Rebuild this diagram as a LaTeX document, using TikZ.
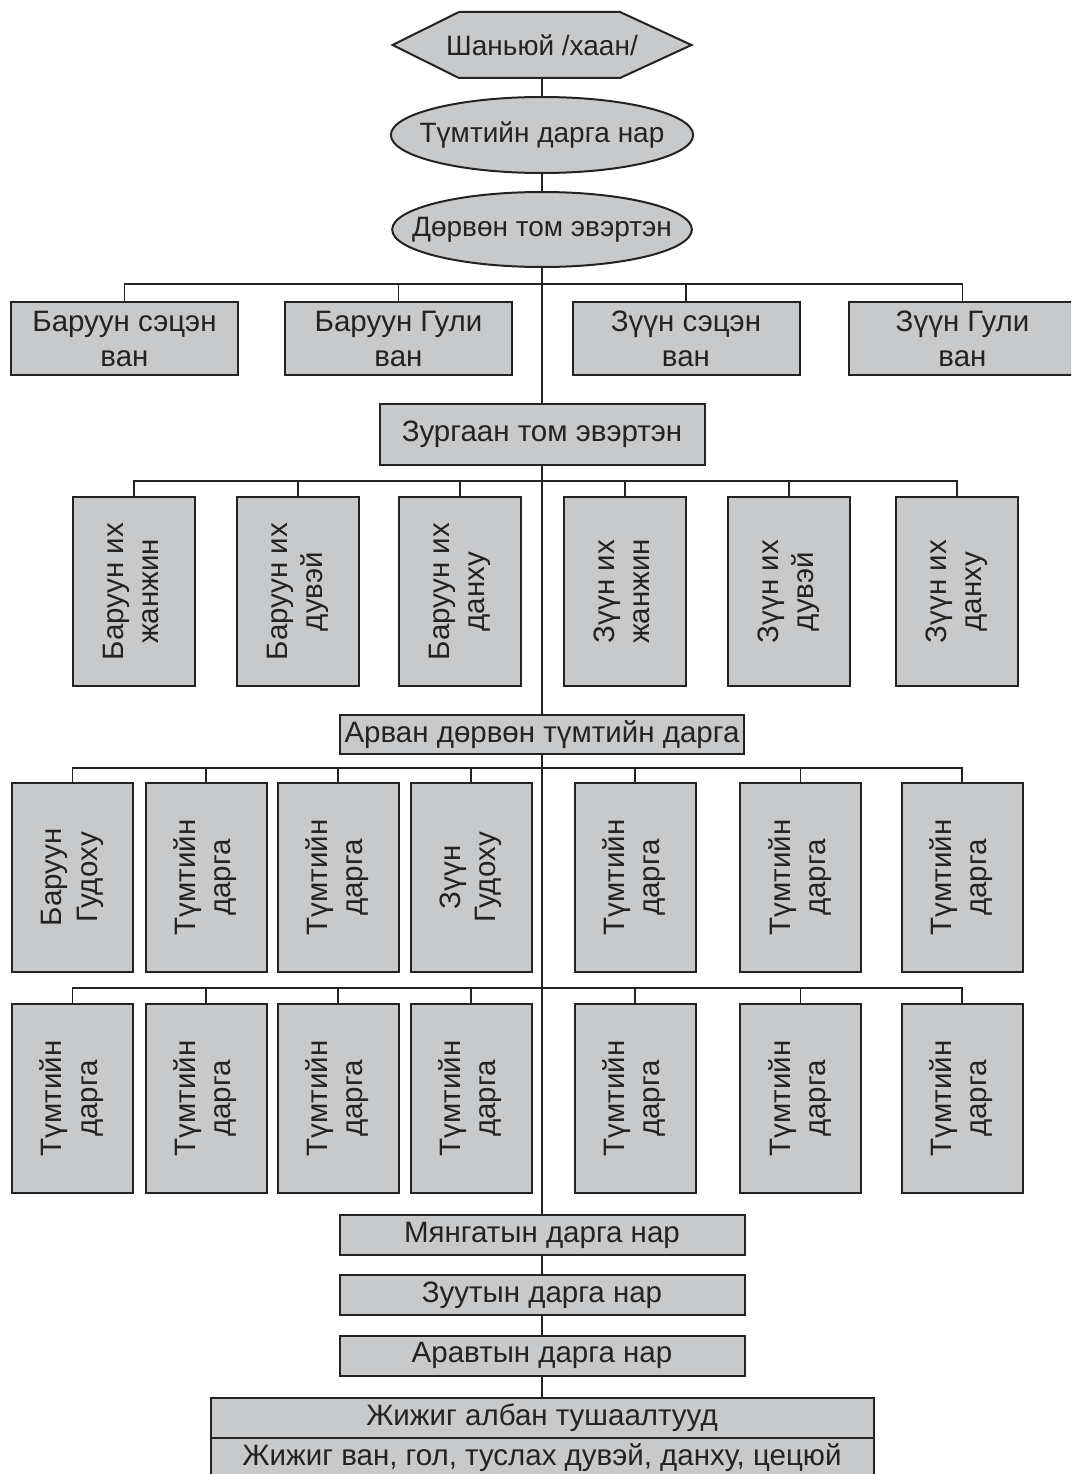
\documentclass[tikz,border=0pt]{standalone}
\usepackage{fontspec}
\setmainfont{Liberation Sans}
\usetikzlibrary{shapes.geometric}

\definecolor{boxgray}{RGB}{200,201,203}
\definecolor{inkgray}{RGB}{35,35,35}

\tikzset{
  box/.style={draw=inkgray, line width=2pt, fill=boxgray, inner sep=0pt, align=center,
    text=inkgray, font=\fontsize{29.5}{35}\selectfont},
  top/.style={box, font=\fontsize{28}{33}\selectfont},
  wide/.style={box, minimum width=#1, minimum height=40pt},
  tall/.style={box, minimum width=121pt, minimum height=189pt},
  link/.style={draw=inkgray, line width=1.4pt},
}
\newcommand{\vlabel}[2]{\rotatebox{90}{\begin{tabular}{@{}c@{}}#1\\#2\end{tabular}}}

\begin{document}
\begin{tikzpicture}[x=1pt, y=-1pt]
  \path[use as bounding box] (0,0) rectangle (1071,1474);
  \clip (0,0) rectangle (1071,1474);

  % top of the tree
  \draw[box] (392.5,45) -- (459,12) -- (620,12) -- (691.5,45) -- (620,78) -- (459,78) -- cycle;
  \node[top, draw=none, fill=none, minimum width=299pt, minimum height=66pt] (khan) at (542,45) {Шаньюй /хаан/};
  \node[top, ellipse, inner xsep=-15.5pt, minimum width=297pt, minimum height=76pt] (tumt) at (542,135) {Түмтийн дарга нар};
  \node[top, ellipse, inner xsep=-24pt, minimum width=297pt, minimum height=75pt] (dorvon) at (542,229.5) {Дөрвөн том эвэртэн};

  % four wings
  \node[box, minimum width=227pt, minimum height=73pt] (wa) at (124.5,338.5) {Баруун сэцэн\\ван};
  \node[box, minimum width=227pt, minimum height=73pt] (wb) at (398.5,338.5) {Баруун Гули\\ван};
  \node[box, minimum width=227pt, minimum height=73pt] (wc) at (686,338.5) {Зүүн сэцэн\\ван};
  \node[box, minimum width=227pt, minimum height=73pt] (wd) at (962.5,338.5) {Зүүн Гули\\ван};

  \node[box, minimum width=325pt, minimum height=61pt] (zurgaan) at (542,434.5) {Зургаан том эвэртэн};

  % six great officers
  \node[tall, minimum width=122pt] (sa) at (134,591.5) {\vlabel{Баруун их}{жанжин}};
  \node[tall, minimum width=122pt] (sb) at (298,591.5) {\vlabel{Баруун их}{дувэй}};
  \node[tall, minimum width=122pt] (sc) at (460,591.5) {\vlabel{Баруун их}{данху}};
  \node[tall, minimum width=122pt] (sd) at (625,591.5) {\vlabel{Зүүн их}{жанжин}};
  \node[tall, minimum width=122pt] (se) at (789,591.5) {\vlabel{Зүүн их}{дувэй}};
  \node[tall, minimum width=122pt] (sf) at (957,591.5) {\vlabel{Зүүн их}{данху}};

  \node[box, minimum width=404pt, minimum height=39pt] (arvan) at (542,734.5) {Арван дөрвөн түмтийн дарга};

  % fourteen tumen leaders
  \node[tall] (ta) at (72.5,877.5) {\vlabel{Баруун}{Гудоху}};
  \node[tall] (tb) at (206,877.5) {\vlabel{Түмтийн}{дарга}};
  \node[tall] (tc) at (338,877.5) {\vlabel{Түмтийн}{дарга}};
  \node[tall] (td) at (471,877.5) {\vlabel{Зүүн}{Гудоху}};
  \node[tall] (te) at (635,877.5) {\vlabel{Түмтийн}{дарга}};
  \node[tall] (tf) at (800.5,877.5) {\vlabel{Түмтийн}{дарга}};
  \node[tall] (tg) at (962,877.5) {\vlabel{Түмтийн}{дарга}};

  \node[tall] (ua) at (72.5,1098.5) {\vlabel{Түмтийн}{дарга}};
  \node[tall] (ub) at (206,1098.5) {\vlabel{Түмтийн}{дарга}};
  \node[tall] (uc) at (338,1098.5) {\vlabel{Түмтийн}{дарга}};
  \node[tall] (ud) at (471,1098.5) {\vlabel{Түмтийн}{дарга}};
  \node[tall] (ue) at (635,1098.5) {\vlabel{Түмтийн}{дарга}};
  \node[tall] (uf) at (800.5,1098.5) {\vlabel{Түмтийн}{дарга}};
  \node[tall] (ug) at (962,1098.5) {\vlabel{Түмтийн}{дарга}};

  % lower ranks
  \node[wide=405pt] (mangat) at (542,1235) {Мянгатын дарга нар};
  \node[wide=405pt] (zuut) at (542,1295) {Зуутын дарга нар};
  \node[wide=405pt] (aravt) at (542,1355.5) {Аравтын дарга нар};
  \node[wide=663pt] (jijig) at (542,1418) {Жижиг албан тушаалтууд};
  \node[wide=663pt] (jijigvan) at (542,1458) {Жижиг ван, гол, туслах дувэй, данху, цецюй};

  % main line
  \draw[link] (khan) -- (tumt);
  \draw[link] (tumt) -- (dorvon);
  \draw[link] (dorvon) -- (zurgaan);
  \draw[link] (zurgaan) -- (arvan);
  \draw[link] (arvan) -- (mangat);
  \draw[link] (mangat) -- (zuut);
  \draw[link] (zuut) -- (aravt);
  \draw[link] (aravt) -- (jijig);

  % branches
  \draw[link] (wa.north) -- ++(0,-17) -| (wd.north);
  \draw[link] (wb.north) -- ++(0,-17);
  \draw[link] (wc.north) -- ++(0,-17);

  \draw[link] (sa.north) -- ++(0,-15) -| (sf.north);
  \draw[link] (sb.north) -- ++(0,-15);
  \draw[link] (sc.north) -- ++(0,-15);
  \draw[link] (sd.north) -- ++(0,-15);
  \draw[link] (se.north) -- ++(0,-15);

  \draw[link] (ta.north) -- ++(0,-14) -| (tg.north);
  \draw[link] (tb.north) -- ++(0,-14);
  \draw[link] (tc.north) -- ++(0,-14);
  \draw[link] (td.north) -- ++(0,-14);
  \draw[link] (te.north) -- ++(0,-14);
  \draw[link] (tf.north) -- ++(0,-14);

  \draw[link] (ua.north) -- ++(0,-15) -| (ug.north);
  \draw[link] (ub.north) -- ++(0,-15);
  \draw[link] (uc.north) -- ++(0,-15);
  \draw[link] (ud.north) -- ++(0,-15);
  \draw[link] (ue.north) -- ++(0,-15);
  \draw[link] (uf.north) -- ++(0,-15);
\end{tikzpicture}
\end{document}
